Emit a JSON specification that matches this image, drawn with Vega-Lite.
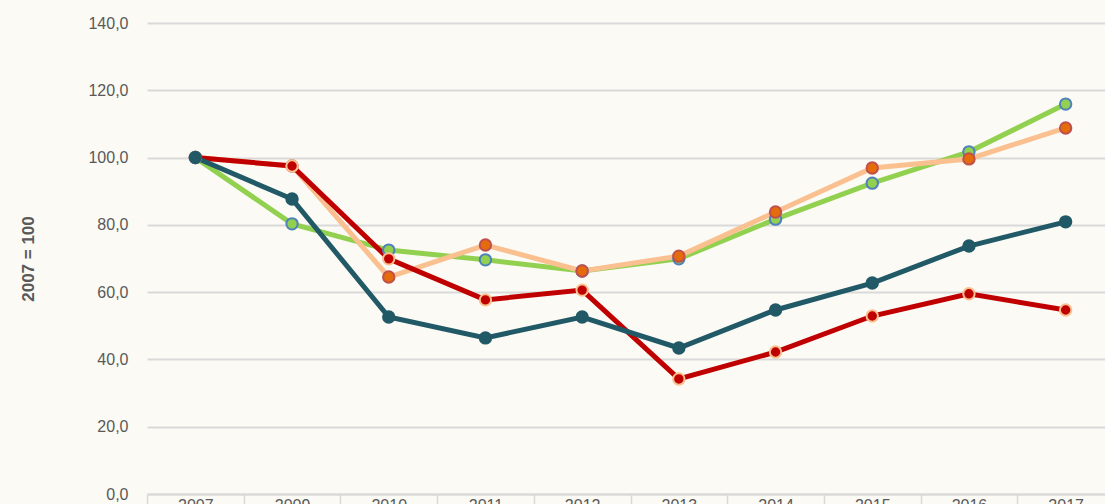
{
  "$schema": "https://vega.github.io/schema/vega-lite/v6.json",
  "autosize": {"type": "none"},
  "width": 967,
  "height": 471,
  "padding": {"left": 147, "top": 23, "right": 0, "bottom": 30},
  "background": "#FBFAF4",
  "config": {
    "view": {"stroke": null},
    "font": "Liberation Sans"
  },
  "data": {
    "values": [
      {"year": "2007", "serie": "s1", "value": 100.0},
      {"year": "2009", "serie": "s1", "value": 80.3},
      {"year": "2010", "serie": "s1", "value": 72.5},
      {"year": "2011", "serie": "s1", "value": 69.6},
      {"year": "2012", "serie": "s1", "value": 66.3},
      {"year": "2013", "serie": "s1", "value": 69.9},
      {"year": "2014", "serie": "s1", "value": 81.7},
      {"year": "2015", "serie": "s1", "value": 92.4},
      {"year": "2016", "serie": "s1", "value": 101.7},
      {"year": "2017", "serie": "s1", "value": 115.9},
      {"year": "2007", "serie": "s2", "value": 100.0},
      {"year": "2009", "serie": "s2", "value": 97.5},
      {"year": "2010", "serie": "s2", "value": 64.5},
      {"year": "2011", "serie": "s2", "value": 74.0},
      {"year": "2012", "serie": "s2", "value": 66.3},
      {"year": "2013", "serie": "s2", "value": 70.7},
      {"year": "2014", "serie": "s2", "value": 83.8},
      {"year": "2015", "serie": "s2", "value": 96.9},
      {"year": "2016", "serie": "s2", "value": 99.6},
      {"year": "2017", "serie": "s2", "value": 108.8},
      {"year": "2007", "serie": "s3", "value": 100.0},
      {"year": "2009", "serie": "s3", "value": 97.5},
      {"year": "2010", "serie": "s3", "value": 69.9},
      {"year": "2011", "serie": "s3", "value": 57.7},
      {"year": "2012", "serie": "s3", "value": 60.6},
      {"year": "2013", "serie": "s3", "value": 34.2},
      {"year": "2014", "serie": "s3", "value": 42.2},
      {"year": "2015", "serie": "s3", "value": 52.9},
      {"year": "2016", "serie": "s3", "value": 59.5},
      {"year": "2017", "serie": "s3", "value": 54.7},
      {"year": "2007", "serie": "s4", "value": 100.0},
      {"year": "2009", "serie": "s4", "value": 87.7},
      {"year": "2010", "serie": "s4", "value": 52.6},
      {"year": "2011", "serie": "s4", "value": 46.4},
      {"year": "2012", "serie": "s4", "value": 52.6},
      {"year": "2013", "serie": "s4", "value": 43.4},
      {"year": "2014", "serie": "s4", "value": 54.7},
      {"year": "2015", "serie": "s4", "value": 62.7},
      {"year": "2016", "serie": "s4", "value": 73.7},
      {"year": "2017", "serie": "s4", "value": 80.9}
    ]
  },
  "encoding": {
    "x": {
      "field": "year",
      "type": "ordinal",
      "scale": {"paddingInner": 0, "paddingOuter": 0},
      "axis": {
        "title": null,
        "labelAngle": 0,
        "labelFontSize": 16,
        "labelColor": "#595959",
        "labelPadding": -9,
        "labelBaseline": "top",
        "domainColor": "#D9D9D9",
        "domainWidth": 2,
        "tickColor": "#D9D9D9",
        "tickWidth": 1.5,
        "tickSize": 12,
        "tickBand": "extent",
        "grid": false
      }
    },
    "y": {
      "field": "value",
      "type": "quantitative",
      "scale": {"domain": [0, 140], "nice": false},
      "axis": {
        "title": "2007 = 100",
        "titleFontSize": 17,
        "titleFontWeight": "bold",
        "titleColor": "#595959",
        "titlePadding": 50,
        "values": [0, 20, 40, 60, 80, 100, 120, 140],
        "labelExpr": "replace(format(datum.value, '.1f'), '.', ',')",
        "labelFontSize": 16,
        "labelColor": "#595959",
        "labelPadding": 19,
        "domain": false,
        "ticks": false,
        "gridColor": "#D9D9D9",
        "gridWidth": 2
      }
    }
  },
  "layer": [
    {
      "mark": {"type": "line", "strokeWidth": 5},
      "encoding": {
        "color": {
          "field": "serie",
          "type": "nominal",
          "scale": {"domain": ["s1", "s2", "s3", "s4"], "range": ["#92D050", "#FAC090", "#C00000", "#215967"]},
          "legend": null
        }
      }
    },
    {
      "mark": {"type": "point", "filled": true, "size": 130, "strokeWidth": 2, "opacity": 1},
      "encoding": {
        "fill": {
          "field": "serie",
          "type": "nominal",
          "scale": {"domain": ["s1", "s2", "s3", "s4"], "range": ["#92D050", "#E46C0A", "#C00000", "#215967"]},
          "legend": null
        },
        "stroke": {
          "field": "serie",
          "type": "nominal",
          "scale": {"domain": ["s1", "s2", "s3", "s4"], "range": ["#4F81BD", "#C0504D", "#FAC090", "#215967"]},
          "legend": null
        }
      }
    }
  ]
}
